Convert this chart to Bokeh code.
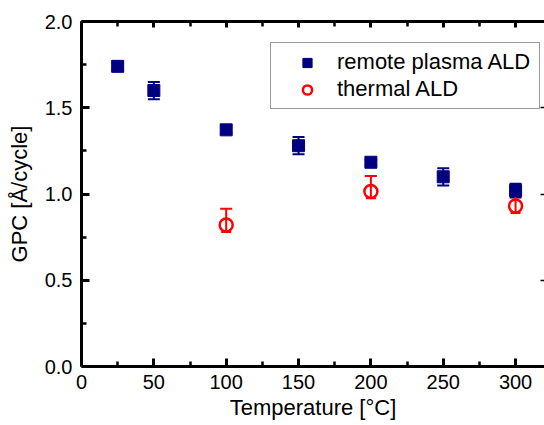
from bokeh.plotting import figure
from bokeh.models import (ColumnDataSource, Whisker, TeeHead, LinearAxis, FixedTicker,
                          Range1d, Legend, LegendItem, NumeralTickFormatter,
                          CustomJSTickFormatter)
from bokeh.embed import file_html
from bokeh.resources import INLINE

# ---- data ----
temperature_plasma = [25, 50, 100, 150, 200, 250, 300]
gpc_plasma = [1.74, 1.60, 1.372, 1.28, 1.184, 1.10, 1.02]
err_plasma = [0.02, 0.05, 0.02, 0.05, 0.015, 0.05, 0.04]

temperature_thermal = [100, 200, 300]
gpc_thermal = [0.82, 1.015, 0.93]
err_thermal_up = [0.095, 0.09, 0.075]
err_thermal_down = [0.04, 0.04, 0.04]

x_ticks = [0, 50, 100, 150, 200, 250, 300, 350]
x_minor = [25, 75, 125, 175, 225, 275, 325]
y_ticks = [0.0, 0.5, 1.0, 1.5, 2.0]
y_minor = [0.25, 0.75, 1.25, 1.75]

series_labels = ["remote plasma ALD", "thermal ALD"]
x_label = "Temperature [°C]"
y_label = "GPC [Å/cycle]"

FONT = "Liberation Sans"
BLUE = "#000080"
RED = "#ff0000"

src_p = ColumnDataSource(dict(
    x=temperature_plasma, y=gpc_plasma,
    up=[v + e for v, e in zip(gpc_plasma, err_plasma)],
    lo=[v - e for v, e in zip(gpc_plasma, err_plasma)],
))
src_t = ColumnDataSource(dict(
    x=temperature_thermal, y=gpc_thermal,
    up=[v + e for v, e in zip(gpc_thermal, err_thermal_up)],
    lo=[v - e for v, e in zip(gpc_thermal, err_thermal_down)],
))

p = figure(width=544, height=425, output_backend="svg", toolbar_location=None,
           x_range=Range1d(0, 320), y_range=Range1d(0, 2.0),
           min_border_left=81, min_border_right=0, min_border_top=21, min_border_bottom=59)
p.outline_line_color = None
p.grid.visible = False
p.background_fill_color = "white"
p.border_fill_color = "white"

xt = FixedTicker(ticks=x_ticks, minor_ticks=x_minor)
yt = FixedTicker(ticks=y_ticks, minor_ticks=y_minor)
blank = CustomJSTickFormatter(code="return ''")


def style_axis(ax):
    ax.axis_line_width = 3
    ax.axis_line_color = "black"
    ax.major_tick_line_width = 3
    ax.minor_tick_line_width = 2.5
    ax.major_tick_line_color = "black"
    ax.minor_tick_line_color = "black"
    ax.major_tick_in = 8
    ax.major_tick_out = 0
    ax.minor_tick_in = 5
    ax.minor_tick_out = 0
    ax.major_label_text_font = FONT
    ax.major_label_text_font_size = "20px"
    ax.major_label_text_color = "black"
    ax.axis_label_text_font = FONT
    ax.axis_label_text_font_size = "22px"
    ax.axis_label_text_font_style = "normal"
    ax.axis_label_text_color = "black"


xa = p.xaxis[0]
xa.ticker = xt
style_axis(xa)
xa.axis_label = x_label
xa.major_label_standoff = 8
xa.axis_label_standoff = 3

ya = p.yaxis[0]
ya.ticker = yt
ya.formatter = NumeralTickFormatter(format="0.0")
style_axis(ya)
ya.axis_label = y_label
ya.major_label_standoff = 9
ya.axis_label_standoff = 10

top = LinearAxis(ticker=xt, formatter=blank)
style_axis(top)
top.major_label_standoff = 0
top.major_tick_in = 6
top.minor_tick_in = 5
p.add_layout(top, "above")

right = LinearAxis(ticker=FixedTicker(ticks=y_ticks), formatter=blank)
style_axis(right)
right.axis_line_color = None
right.major_label_standoff = 0
right.major_tick_in = 4
right.major_tick_line_width = 1.5
p.add_layout(right, "right")

# error bars
p.add_layout(Whisker(source=src_p, base="x", upper="up", lower="lo",
                     line_color=BLUE, line_width=2,
                     upper_head=TeeHead(size=12, line_color=BLUE, line_width=2),
                     lower_head=TeeHead(size=12, line_color=BLUE, line_width=2)))
p.add_layout(Whisker(source=src_t, base="x", upper="up", lower="lo",
                     line_color=RED, line_width=2,
                     upper_head=TeeHead(size=12, line_color=RED, line_width=2),
                     lower_head=TeeHead(size=10, line_color=RED, line_width=2)))

r1 = p.scatter("x", "y", source=src_p, marker="square", size=12,
               fill_color=BLUE, line_color=BLUE, line_width=1)
r2 = p.scatter("x", "y", source=src_t, marker="circle", size=13,
               fill_color=None, line_color=RED, line_width=2.5)

legend = Legend(items=[LegendItem(label=series_labels[0], renderers=[r1]),
                       LegendItem(label=series_labels[1], renderers=[r2])],
                location=(189, 257), margin=0, padding=6, spacing=1,
                glyph_width=60, glyph_height=23, label_height=23,
                label_width=196, label_standoff=0,
                label_text_font=FONT, label_text_font_size="22px",
                label_text_color="black",
                border_line_color="#333333", border_line_width=1,
                background_fill_color="white", background_fill_alpha=1)
p.add_layout(legend)

open("out.html", "w").write(file_html(p, INLINE))
